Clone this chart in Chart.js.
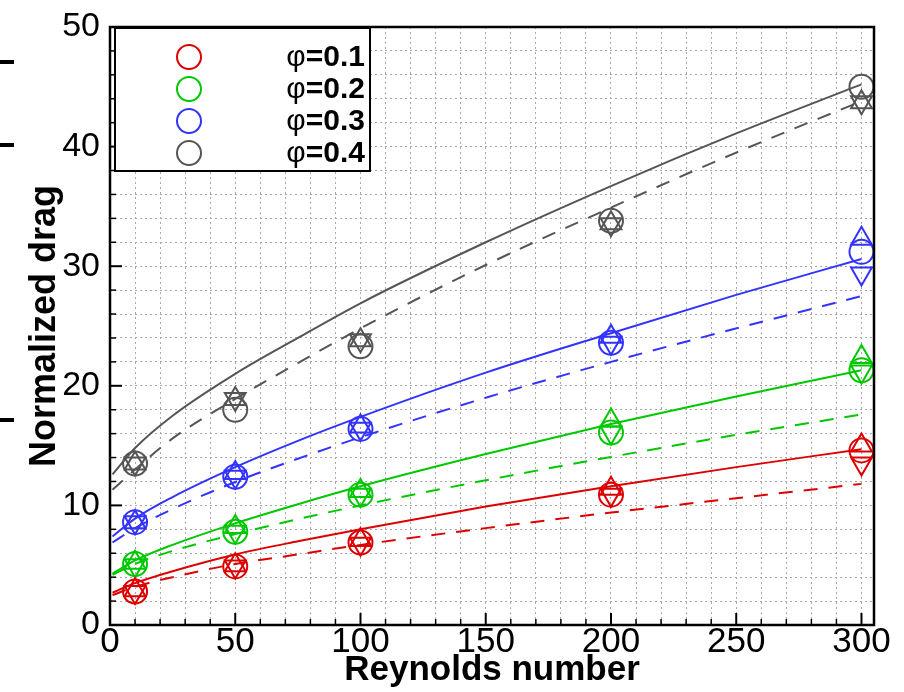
<!DOCTYPE html>
<html>
<head>
<meta charset="utf-8">
<script src="https://cdn.jsdelivr.net/npm/chart.js@4.4.0/dist/chart.umd.min.js"></script>
<style>
html,body{margin:0;padding:0;background:#fff;}
#wrap{position:relative;width:904px;height:692px;overflow:hidden;}
.mark{position:absolute;left:0;width:14px;height:4px;background:#000;}
</style>
</head>
<body>
<div id="wrap">
<canvas id="c" width="904" height="692"></canvas>
<div class="mark" style="top:60px"></div>
<div class="mark" style="top:143px"></div>
<div class="mark" style="top:418px"></div>
</div>
<script>
// ---- data ----
const reynolds = [10, 50, 100, 200, 300];
const phiLabels = ['φ=0.1', 'φ=0.2', 'φ=0.3', 'φ=0.4'];
const colors = ['#dd0000', '#00c800', '#3333ff', '#555555'];

const circle01 = [2.8, 4.9, 6.9, 10.9, 14.6];
const up01     = [2.9, 5.0, 7.1, 11.4, 15.0];
const down01   = [2.75, 4.9, 6.8, 10.9, 13.5];

const circle02 = [5.1, 7.8, 10.9, 16.1, 21.3];
const up02     = [5.2, 8.2, 11.2, 17.1, 22.4];
const down02   = [5.0, 7.8, 10.9, 16.1, 21.2];

const circle03 = [8.6, 12.4, 16.4, 23.6, 31.2];
const up03     = [8.6, 12.7, 16.6, 24.1, 32.3];
const down03   = [8.6, 12.4, 16.4, 23.6, 29.4];

const circle04 = [13.5, 18.0, 23.3, 33.8, 45.0];
const up04     = [13.5, 18.9, 23.8, 33.6, 43.7];
const down04   = [13.5, 18.9, 23.8, 33.5, 43.7];

// fitted curves (solid and dashed)
const curveRe  = [1, 10, 25, 50, 75, 100, 150, 200, 250, 300];
const solid01  = [2.7, 3.5, 4.5, 5.9, 7.0, 8.0, 9.9, 11.6, 13.2, 14.7];
const dashed01 = [2.5, 3.2, 4.0, 5.1, 5.9, 6.7, 8.1, 9.4, 10.6, 11.8];
const solid02  = [4.3, 5.4, 6.7, 8.5, 10.1, 11.6, 14.3, 16.8, 19.1, 21.3];
const dashed02 = [4.2, 5.1, 6.2, 7.6, 8.85, 10.0, 12.1, 14.05, 15.9, 17.6];
const solid03  = [7.4, 8.9, 10.7, 13.2, 15.4, 17.4, 21.1, 24.4, 27.6, 30.6];
const dashed03 = [6.9, 8.1, 9.7, 11.96, 13.9, 15.7, 19.0, 22.0, 24.8, 27.5];
const solid04  = [12.6, 14.8, 17.5, 21.0, 24.0, 26.9, 32.0, 36.7, 41.1, 45.2];
const dashed04 = [11.3, 13.0, 15.6, 18.9, 21.9, 24.8, 30.1, 34.9, 39.5, 43.8];

const xTickLabels = [0, 50, 100, 150, 200, 250, 300];
const yTickLabels = [0, 10, 20, 30, 40, 50];

// ---- build datasets ----
const pts = (xs, ys) => xs.map((x, i) => ({x: x, y: ys[i]}));
const circles = [circle01, circle02, circle03, circle04];
const ups = [up01, up02, up03, up04];
const downs = [down01, down02, down03, down04];
const solids = [solid01, solid02, solid03, solid04];
const dasheds = [dashed01, dashed02, dashed03, dashed04];

const datasets = [];
for (let i = 0; i < 4; i++) {
  datasets.push({type: 'line', data: pts(curveRe, solids[i]), borderColor: colors[i], borderWidth: 2,
    pointRadius: 0, cubicInterpolationMode: 'monotone', fill: false, clip: false});
  datasets.push({type: 'line', data: pts(curveRe, dasheds[i]), borderColor: colors[i], borderWidth: 2,
    borderDash: [14, 11], pointRadius: 0, cubicInterpolationMode: 'monotone', fill: false, clip: false});
}
for (let i = 0; i < 4; i++) {
  datasets.push({type: 'scatter', label: phiLabels[i], data: pts(reynolds, circles[i]), showLine: false,
    pointStyle: 'circle', pointRadius: 12, pointBorderWidth: 2, pointBorderColor: colors[i],
    pointBackgroundColor: 'rgba(0,0,0,0)', clip: false, legendEntry: true});
  datasets.push({type: 'scatter', data: pts(reynolds, ups[i]), showLine: false,
    pointStyle: 'triangle', pointRadius: 12, pointBorderWidth: 2, pointBorderColor: colors[i],
    pointBackgroundColor: 'rgba(0,0,0,0)', clip: false});
  datasets.push({type: 'scatter', data: pts(reynolds, downs[i]), showLine: false,
    pointStyle: 'triangle', pointRotation: 180, pointRadius: 12, pointBorderWidth: 2, pointBorderColor: colors[i],
    pointBackgroundColor: 'rgba(0,0,0,0)', clip: false});
}

// ---- plugins: inward ticks, frame, legend ----
const framePlugin = {
  id: 'framePlugin',
  afterDraw(chart) {
    const {ctx, chartArea: a, scales: {x, y}} = chart;
    ctx.save();
    ctx.strokeStyle = '#000';
    x.ticks.forEach(t => {
      if (t.value > 300) return;
      const px = x.getPixelForValue(t.value);
      const major = xTickLabels.includes(t.value);
      ctx.lineWidth = major ? 2 : 1.5;
      ctx.beginPath(); ctx.moveTo(px, a.bottom); ctx.lineTo(px, a.bottom - (major ? 12 : 6)); ctx.stroke();
    });
    y.ticks.forEach(t => {
      const py = y.getPixelForValue(t.value);
      const major = yTickLabels.includes(t.value);
      ctx.lineWidth = major ? 2 : 1.5;
      ctx.beginPath(); ctx.moveTo(a.left, py); ctx.lineTo(a.left + (major ? 12 : 6), py); ctx.stroke();
    });
    ctx.lineWidth = 2.5;
    ctx.strokeRect(a.left, a.top, a.right - a.left, a.bottom - a.top);

    // legend box
    const bx = a.left + 5, by = a.top + 1, bw = 255, bh = 143;
    ctx.fillStyle = '#fff';
    ctx.fillRect(bx, by, bw, bh);
    ctx.lineWidth = 2;
    ctx.strokeRect(bx, by, bw, bh);
    const entries = chart.data.datasets.filter(d => d.legendEntry);
    entries.forEach((d, i) => {
      const cy = by + 29 + i * 32;
      ctx.beginPath();
      ctx.arc(bx + 74, cy, 12, 0, Math.PI * 2);
      ctx.strokeStyle = d.pointBorderColor;
      ctx.lineWidth = 2;
      ctx.stroke();
      const first = d.label.slice(0, 1), rest = d.label.slice(1);
      ctx.fillStyle = '#000';
      ctx.textBaseline = 'middle';
      ctx.textAlign = 'left';
      ctx.font = 'bold 30px "Liberation Sans", Arial, sans-serif';
      const wRest = ctx.measureText(rest).width;
      ctx.font = '30px "Liberation Sans", Arial, sans-serif';
      const wFirst = ctx.measureText(first).width;
      const right = bx + bw - 5;
      ctx.fillText(first, right - wRest - wFirst, cy + 1);
      ctx.font = 'bold 30px "Liberation Sans", Arial, sans-serif';
      ctx.fillText(rest, right - wRest, cy + 1);
    });
    ctx.restore();
  }
};

new Chart(document.getElementById('c'), {
  type: 'scatter',
  data: {datasets: datasets},
  options: {
    responsive: false,
    animation: false,
    devicePixelRatio: 1,
    layout: {padding: {left: 0, right: 30, top: 22, bottom: 0}},
    plugins: {legend: {display: false}, tooltip: {enabled: false}},
    scales: {
      x: {
        type: 'linear', min: 0, max: 305,
        ticks: {
          stepSize: 10, autoSkip: false, maxRotation: 0, padding: 0, color: '#000', includeBounds: false,
          font: {family: '"Liberation Sans Narrow", "Liberation Sans", Arial', size: 35, lineHeight: 1},
          callback: v => xTickLabels.includes(v) ? String(v) : ''
        },
        grid: {color: '#a8a8a8', lineWidth: 1, drawTicks: false},
        border: {display: false, dash: [2, 3]},
        title: {display: true, text: 'Reynolds number', color: '#000',
          font: {family: '"Liberation Sans", Arial', size: 35, weight: 'bold', lineHeight: 1},
          padding: {top: 0, bottom: 4}},
        afterFit: s => { s.height = 67; }
      },
      y: {
        type: 'linear', min: 0, max: 50,
        ticks: {
          stepSize: 2, autoSkip: false, padding: 10, color: '#000',
          font: {family: '"Liberation Sans", Arial', size: 34, lineHeight: 1},
          callback: v => yTickLabels.includes(v) ? String(v) : ''
        },
        grid: {color: '#a8a8a8', lineWidth: 1, drawTicks: false},
        border: {display: false, dash: [2, 3]},
        title: {display: true, text: 'Normalized drag', color: '#000',
          font: {family: '"Liberation Sans", Arial', size: 36, weight: 'bold', lineHeight: 1},
          padding: {top: 27, bottom: 0}},
        afterFit: s => { s.width = 110; }
      }
    }
  },
  plugins: [framePlugin]
});
</script>
</body>
</html>
